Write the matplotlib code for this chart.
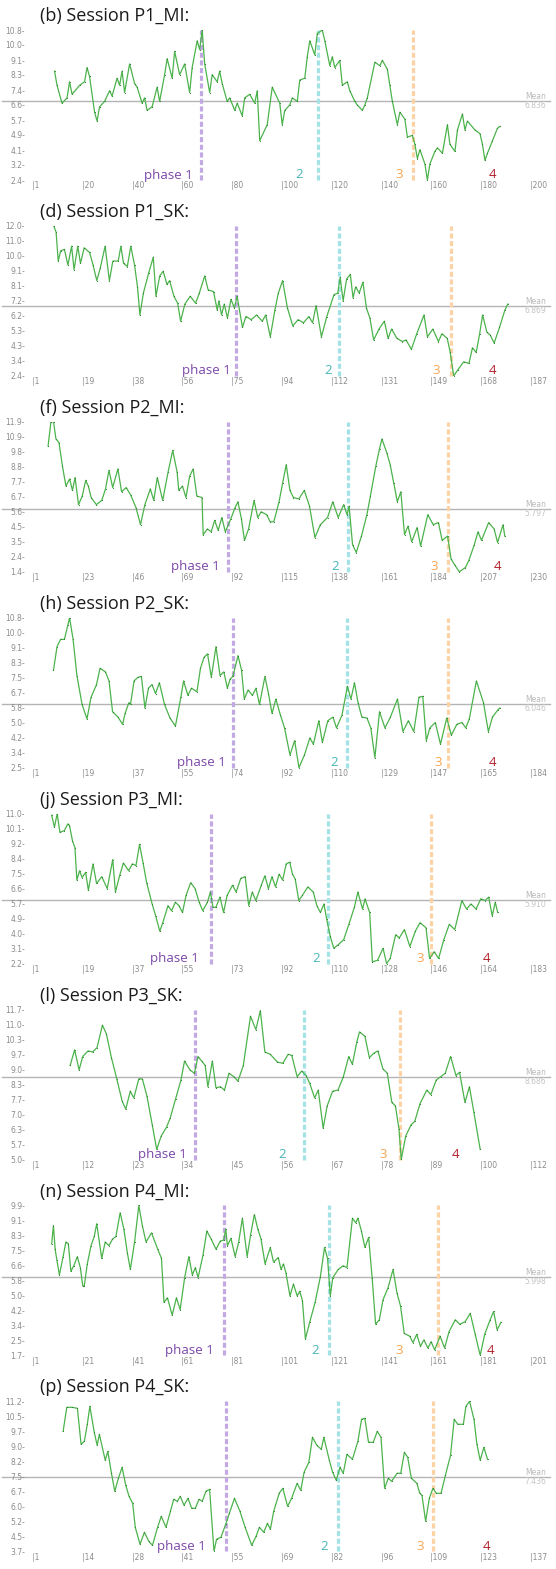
import numpy as np
import matplotlib.pyplot as plt

# ---- values ----
titles = ["(b) Session P1_MI:", "(d) Session P1_SK:", "(f) Session P2_MI:", "(h) Session P2_SK:",
          "(j) Session P3_MI:", "(l) Session P3_SK:", "(n) Session P4_MI:", "(p) Session P4_SK:"]

# (index, value) vertices of each session curve
p1_mi = [(10, 8.5), (11, 7.7), (13, 6.7), (15, 7.0), (16, 7.9), (17, 7.2), (20, 7.7), (22, 7.9), (23, 8.7),
         (24, 8.2), (26, 6.2), (27, 5.7), (28, 6.5), (30, 6.8), (32, 7.4), (33, 7.1), (35, 8.1), (36, 7.7),
         (37, 8.5), (38, 7.3), (40, 8.9), (42, 7.8), (43, 7.6), (45, 6.7), (46, 7.0), (47, 6.3), (49, 6.5),
         (51, 7.6), (52, 6.8), (54, 8.3), (55, 9.2), (57, 8.1), (58, 9.6), (60, 8.3), (62, 8.9), (64, 7.3),
         (65, 8.7), (67, 10.2), (68, 9.7), (69, 10.8), (70, 8.9), (72, 7.3), (73, 8.3), (75, 7.9), (76, 8.5),
         (77, 7.8), (79, 6.8), (80, 7.0), (82, 6.3), (83, 6.7), (85, 6.0), (86, 7.0), (88, 7.2), (90, 6.7),
         (91, 7.4), (92, 4.6), (95, 5.5), (97, 7.6), (100, 6.7), (101, 5.5), (102, 6.3), (104, 6.6), (105, 7.0),
         (107, 6.8), (108, 8.0), (110, 8.1), (111, 9.3), (112, 10.2), (114, 9.4), (115, 10.6), (117, 10.8),
         (118, 10.2), (120, 8.8), (121, 9.3), (122, 8.7), (124, 9.1), (125, 7.7), (127, 7.9), (128, 7.4),
         (130, 6.8), (131, 6.6), (133, 6.3), (134, 6.6), (135, 7.0), (138, 9.0), (140, 8.8), (141, 9.1),
         (143, 8.6), (144, 7.7), (145, 6.8), (147, 5.5), (148, 6.2), (150, 5.8), (151, 4.8), (153, 4.9),
         (154, 4.4), (155, 3.6), (156, 4.1), (158, 3.3), (159, 2.4), (160, 3.3), (162, 4.0), (163, 4.2),
         (165, 3.9), (167, 5.5), (168, 4.4), (170, 4.0), (171, 5.2), (173, 6.1), (174, 5.2), (175, 5.7),
         (178, 5.2), (180, 5.0), (181, 4.4), (182, 3.5), (183, 3.9), (185, 4.6), (187, 5.3), (188, 5.4)]

p1_sk = [(9.1, 12.0), (10.0, 11.6), (10.8, 9.75), (11.7, 10.4), (13.1, 10.5), (14.4, 9.5), (15.8, 10.7),
         (16.7, 9.2), (18.1, 10.7), (19.1, 9.6), (20.5, 10.6), (22.5, 10.3), (23.8, 9.5), (25.2, 8.5),
         (26.5, 9.3), (28.3, 10.7), (29.9, 8.5), (31.2, 9.75), (33.2, 9.75), (34.2, 10.7), (35.2, 9.6),
         (36.6, 9.4), (37.9, 10.7), (39.3, 9.5), (40.4, 8.1), (41.3, 6.3), (42.6, 7.7), (44.6, 9.0),
         (46.3, 10.0), (47.3, 7.5), (48.7, 8.8), (50.0, 9.1), (51.4, 8.25), (52.4, 8.5), (54.0, 7.5),
         (55.4, 7.05), (56.5, 5.9), (58.1, 7.0), (60.1, 7.5), (62.1, 7.05), (63.5, 7.7), (65.5, 8.8),
         (66.8, 7.9), (68.8, 7.8), (70.2, 6.6), (70.8, 7.2), (71.8, 6.3), (72.8, 7.0), (74.0, 6.1),
         (75.3, 7.3), (76.6, 6.75), (77.6, 7.5), (79.6, 5.5), (80.9, 6.2), (82.9, 6.0), (84.9, 6.3),
         (87.0, 5.9), (88.3, 6.3), (90.0, 4.9), (91.7, 6.6), (93.0, 7.7), (94.6, 8.5), (96.4, 6.75),
         (98.4, 5.6), (100.4, 6.0), (102.4, 5.8), (104.4, 6.2), (105.8, 5.8), (107.1, 6.9), (109.1, 4.9),
         (111.1, 6.2), (113.8, 7.6), (115.2, 7.7), (116.1, 8.7), (117.2, 7.2), (118.5, 8.6), (119.9, 8.9),
         (120.9, 7.4), (121.9, 8.1), (123.2, 7.7), (124.6, 8.4), (125.9, 6.75), (127.2, 6.1), (128.6, 4.7),
         (130.6, 5.4), (132.6, 5.9), (134.0, 4.8), (135.3, 5.4), (137.3, 4.8), (139.3, 4.6), (140.7, 4.7),
         (142.7, 4.1), (144.7, 5.1), (147.4, 6.3), (148.7, 4.9), (150.7, 5.4), (152.8, 4.6), (154.1, 5.1),
         (156.1, 4.8), (157.2, 3.9), (158.5, 2.4), (160.1, 2.8), (162.2, 3.3), (164.2, 3.2), (165.5, 4.2),
         (166.9, 3.9), (168.2, 5.1), (169.3, 6.3), (170.9, 5.2), (172.2, 5.0), (173.6, 4.5), (175.6, 5.5),
         (177.6, 6.6), (178.7, 7.0)]

p2_mi = [(8.4, 10.2), (9.7, 11.9), (10.9, 11.9), (12.0, 10.7), (13.4, 10.45), (15.0, 8.8), (16.6, 7.4),
         (18.3, 7.9), (19.6, 7.1), (20.8, 8.0), (22.4, 6.1), (24.1, 6.7), (25.7, 7.8), (26.9, 7.4),
         (28.2, 6.6), (30.6, 6.1), (33.1, 6.4), (34.8, 7.2), (36.4, 8.5), (38.1, 7.3), (40.5, 8.6),
         (42.2, 7.0), (44.3, 7.3), (46.3, 6.8), (48.8, 5.9), (50.9, 4.7), (52.9, 6.1), (55.4, 7.2),
         (57.0, 6.4), (58.6, 8.0), (61.1, 6.4), (63.6, 8.4), (65.7, 9.9), (67.7, 8.4), (68.5, 7.1),
         (70.2, 7.4), (71.8, 6.6), (73.5, 8.1), (75.1, 8.6), (76.8, 6.7), (79.2, 6.6), (79.7, 4.0),
         (81.7, 4.4), (83.4, 4.2), (85.0, 5.0), (86.6, 4.3), (88.3, 5.2), (89.9, 4.2), (92.4, 5.1),
         (94.4, 5.9), (95.7, 6.3), (97.3, 5.1), (98.7, 3.6), (100.6, 4.4), (103.1, 6.4), (104.8, 5.2),
         (106.4, 5.6), (108.9, 5.4), (110.5, 4.9), (112.2, 4.9), (114.6, 6.3), (116.3, 7.65), (117.9, 8.9),
         (119.6, 7.1), (121.2, 6.6), (123.7, 6.5), (126.2, 7.1), (128.6, 6.0), (131.1, 3.8), (133.6, 4.7),
         (136.9, 5.2), (139.3, 6.3), (141.8, 5.2), (144.3, 6.1), (145.9, 5.4), (146.8, 6.0), (148.4, 3.3),
         (150.1, 2.75), (152.5, 3.9), (155.0, 5.4), (156.6, 6.7), (159.1, 8.8), (160.8, 10.0), (161.9, 10.7),
         (164.1, 9.75), (165.7, 8.9), (167.3, 7.65), (169.0, 6.3), (170.6, 7.0), (172.3, 4.0), (173.9, 4.6),
         (175.6, 3.5), (178.1, 4.5), (179.7, 3.2), (183.0, 5.4), (185.5, 4.7), (187.9, 4.85), (189.6, 3.6),
         (192.1, 3.9), (193.7, 2.3), (195.3, 1.9), (197.5, 1.4), (200.3, 1.7), (201.9, 2.2), (204.4, 3.3),
         (206.1, 4.2), (207.7, 3.6), (211.0, 4.85), (213.5, 4.4), (215.1, 3.45), (217.6, 4.7), (218.4, 3.9)]

p2_sk = [(8.9, 7.9), (10.2, 9.2), (11.5, 9.6), (12.9, 9.6), (14.2, 10.4), (14.8, 10.8), (16.1, 9.6),
         (17.5, 7.6), (19.4, 6.0), (21.2, 5.2), (22.7, 6.4), (24.7, 7.1), (26.0, 8.0), (28.0, 7.8),
         (29.3, 7.3), (30.6, 5.6), (32.6, 5.3), (34.3, 4.9), (35.2, 5.5), (36.6, 6.1), (37.2, 6.0),
         (38.5, 7.3), (39.9, 7.5), (41.2, 7.55), (42.5, 5.8), (43.8, 6.9), (45.1, 7.1), (46.4, 6.6),
         (47.8, 7.2), (49.7, 6.0), (51.7, 5.25), (53.7, 4.8), (55.7, 6.4), (56.7, 7.3), (58.3, 6.5),
         (59.6, 6.9), (61.6, 6.7), (62.9, 8.0), (64.2, 8.6), (65.5, 8.8), (66.9, 7.5), (68.6, 9.2),
         (70.1, 7.6), (71.5, 7.8), (72.8, 6.9), (73.8, 7.4), (74.8, 7.55), (76.7, 8.7), (78.0, 7.9),
         (79.0, 6.3), (80.4, 6.8), (82.0, 6.5), (83.3, 6.9), (84.6, 6.0), (86.6, 7.55), (87.9, 6.6),
         (89.2, 5.5), (90.6, 6.3), (92.3, 5.4), (93.8, 4.7), (95.8, 3.2), (97.5, 4.0), (99.1, 2.5),
         (101.1, 3.2), (103.1, 4.15), (104.4, 3.8), (106.4, 5.1), (107.7, 3.9), (109.7, 5.1), (111.6, 5.3),
         (112.9, 4.7), (114.9, 5.4), (116.9, 7.0), (118.2, 6.3), (119.5, 7.2), (120.8, 6.1), (122.2, 5.3),
         (124.1, 5.25), (125.5, 4.7), (127.0, 3.05), (128.7, 5.6), (130.7, 4.7), (132.7, 5.3), (135.3, 6.3),
         (137.3, 4.5), (139.3, 5.1), (141.3, 4.5), (143.2, 6.4), (144.6, 6.45), (145.9, 4.0), (147.2, 4.7),
         (149.2, 5.0), (151.1, 3.8), (153.4, 5.25), (155.1, 4.3), (157.1, 4.9), (159.0, 5.0), (160.4, 4.7),
         (161.7, 5.2), (164.3, 7.3), (166.9, 6.1), (168.7, 4.5), (170.2, 5.3), (172.2, 5.7), (172.9, 5.8)]

p3_mi = [(8.2, 10.9), (9.2, 10.2), (10.2, 11.0), (11.2, 9.9), (12.8, 10.0), (14.1, 10.4), (14.7, 10.3),
         (15.8, 9.4), (16.7, 9.0), (17.4, 7.1), (18.4, 7.65), (19.3, 7.25), (20.6, 7.55), (21.6, 6.5),
         (23.3, 8.05), (24.6, 6.9), (26.5, 7.3), (28.5, 6.6), (30.5, 8.3), (31.5, 6.4), (33.1, 7.4),
         (34.4, 8.1), (36.3, 7.65), (37.7, 8.05), (39.0, 7.95), (40.3, 9.2), (41.6, 8.1), (42.9, 6.95),
         (44.9, 5.7), (46.2, 5.0), (47.7, 4.1), (48.8, 4.6), (50.7, 5.6), (52.0, 5.3), (53.4, 5.8),
         (54.7, 5.6), (56.0, 5.2), (57.3, 6.2), (59.0, 6.95), (60.6, 6.6), (62.1, 5.8), (63.4, 5.3),
         (65.1, 5.8), (66.2, 6.4), (67.1, 5.5), (68.2, 5.5), (69.7, 6.1), (71.0, 5.2), (72.3, 6.2),
         (74.3, 6.8), (75.6, 6.4), (77.3, 7.2), (78.9, 7.3), (80.2, 5.6), (81.5, 6.4), (82.8, 5.9),
         (84.8, 6.8), (86.1, 7.35), (87.4, 6.6), (88.7, 7.3), (90.0, 6.7), (91.3, 7.45), (92.6, 7.1),
         (93.9, 8.05), (95.2, 8.15), (96.2, 7.45), (97.2, 7.15), (98.5, 5.9), (99.8, 6.2), (101.8, 6.7),
         (103.8, 6.4), (105.1, 5.6), (106.4, 5.2), (107.7, 5.7), (108.7, 4.8), (110.0, 3.8), (111.3, 3.1),
         (112.9, 3.3), (114.9, 3.6), (116.8, 4.5), (118.8, 5.5), (120.1, 6.4), (121.8, 5.4), (122.7, 6.0),
         (124.4, 5.2), (125.4, 2.3), (127.3, 2.4), (129.3, 3.1), (130.6, 2.2), (131.9, 2.5), (133.9, 3.9),
         (135.2, 3.7), (137.1, 4.2), (139.1, 3.2), (141.1, 4.1), (142.8, 4.6), (145.0, 4.3), (146.3, 2.5),
         (148.0, 2.9), (149.6, 2.5), (151.5, 3.6), (153.5, 4.5), (155.5, 4.2), (158.1, 5.9), (159.8, 5.4),
         (161.4, 5.7), (163.3, 5.4), (165.0, 6.0), (166.6, 5.9), (167.9, 6.1), (169.2, 5.0), (170.3, 5.8),
         (171.2, 5.2)]

p3_sk = [(9.5, 9.2), (10.5, 9.9), (11.5, 9.0), (12.3, 9.6), (13.5, 9.85), (14.5, 9.8), (15.5, 10.0),
         (16.7, 11.0), (17.6, 10.6), (18.7, 9.55), (19.9, 8.6), (21.1, 7.6), (21.9, 7.25), (22.9, 8.05),
         (23.7, 7.75), (24.8, 8.6), (25.6, 8.6), (26.6, 7.85), (27.8, 6.55), (28.8, 5.45), (29.8, 6.05),
         (31.0, 6.45), (31.8, 6.85), (33.0, 7.7), (34.2, 8.55), (35.0, 9.4), (36.2, 9.0), (37.2, 8.85),
         (38.0, 9.6), (38.8, 9.4), (39.6, 9.2), (40.2, 8.25), (41.2, 9.4), (42.0, 8.2), (43.0, 8.25),
         (43.9, 8.1), (44.9, 8.85), (46.0, 8.7), (46.9, 8.5), (48.1, 9.2), (49.7, 11.4), (50.9, 10.8),
         (51.9, 11.65), (52.9, 9.8), (54.1, 9.7), (55.7, 9.35), (56.9, 9.3), (58.1, 9.7), (58.9, 9.65),
         (60.1, 8.7), (61.1, 8.95), (62.1, 8.75), (62.9, 8.4), (64.0, 7.75), (64.8, 8.1), (65.9, 6.4),
         (66.8, 7.4), (68.0, 8.05), (69.2, 8.1), (70.4, 8.7), (71.6, 9.6), (72.4, 9.25), (73.4, 10.25),
         (74.0, 10.7), (75.2, 10.5), (76.2, 9.55), (77.2, 9.75), (78.1, 9.85), (79.2, 9.05), (80.2, 8.85),
         (81.2, 7.55), (82.0, 7.4), (82.8, 6.35), (83.3, 5.0), (84.3, 6.05), (85.5, 6.55), (86.3, 6.7),
         (87.5, 7.5), (89.0, 8.1), (89.9, 7.9), (91.1, 8.55), (92.1, 8.7), (93.1, 8.85), (94.3, 9.6),
         (95.5, 8.75), (96.3, 8.9), (97.5, 7.55), (98.5, 8.25), (99.5, 7.1), (100.9, 5.45)]

p4_mi = [(8.9, 7.8), (9.6, 8.8), (10.3, 7.5), (11.0, 6.9), (12.0, 6.1), (13.5, 7.1), (14.6, 7.9), (15.6, 7.8),
         (16.6, 6.3), (17.8, 6.6), (19.2, 7.1), (20.4, 6.5), (21.4, 5.5), (22.0, 5.5), (23.2, 6.7),
         (24.7, 7.7), (26.0, 8.2), (27.0, 8.9), (29.0, 7.0), (30.4, 7.9), (31.9, 7.7), (33.3, 8.05),
         (34.7, 8.2), (36.4, 9.5), (37.9, 8.6), (39.3, 7.3), (40.5, 6.4), (42.2, 7.9), (43.9, 9.9),
         (45.3, 8.8), (46.8, 7.9), (49.0, 8.4), (51.5, 7.5), (53.0, 7.0), (54.0, 4.6), (55.4, 4.85),
         (57.3, 3.9), (59.0, 4.85), (60.5, 4.2), (62.3, 5.95), (64.0, 7.1), (65.4, 6.1), (66.6, 6.5),
         (67.7, 5.95), (69.7, 7.2), (71.2, 8.5), (73.0, 8.05), (74.9, 7.5), (76.6, 7.95), (78.0, 8.0),
         (78.8, 8.6), (79.5, 7.7), (80.9, 8.1), (82.6, 7.1), (84.0, 7.9), (85.5, 9.2), (87.4, 7.1),
         (88.8, 8.3), (90.3, 9.4), (91.7, 8.6), (93.0, 8.05), (94.6, 6.7), (96.7, 7.6), (98.0, 6.8),
         (99.9, 7.05), (101.0, 6.4), (102.0, 6.7), (103.0, 6.2), (104.6, 4.95), (106.0, 5.6), (107.5, 4.95),
         (108.5, 5.2), (109.6, 4.7), (110.8, 2.6), (112.5, 3.5), (114.7, 4.6), (116.8, 6.0), (118.5, 7.6),
         (119.7, 7.0), (120.8, 4.95), (121.8, 5.95), (124.0, 6.4), (126.0, 6.6), (127.5, 6.5), (129.7, 9.2),
         (131.0, 8.95), (131.9, 9.2), (133.3, 8.5), (134.7, 7.6), (136.2, 8.15), (137.6, 5.95), (139.0, 3.4),
         (140.5, 3.65), (142.0, 4.75), (144.0, 5.4), (146.0, 6.4), (147.6, 5.1), (149.0, 4.4), (150.5, 2.9),
         (152.7, 2.75), (154.0, 2.4), (155.5, 2.85), (157.0, 2.2), (158.4, 2.55), (160.0, 2.1), (161.3, 2.45),
         (162.7, 2.0), (164.9, 2.75), (166.7, 2.1), (168.5, 3.0), (171.0, 3.65), (172.8, 3.4), (175.0, 3.55),
         (177.0, 4.0), (179.0, 2.85), (181.0, 1.7), (182.8, 2.85), (185.0, 3.65), (186.4, 4.1), (187.8, 3.1),
         (189.3, 3.5)]

p4_sk = [(9.5, 9.7), (10.5, 10.9), (11.9, 10.9), (13.4, 10.85), (14.4, 9.05), (15.3, 9.2), (16.1, 10.05),
         (16.8, 10.95), (18.0, 9.65), (18.8, 9.0), (19.4, 9.55), (21.0, 8.25), (21.7, 8.7), (22.7, 7.6),
         (23.6, 6.7), (24.6, 7.35), (25.6, 7.9), (26.6, 7.0), (27.5, 6.45), (28.5, 6.1), (29.2, 4.9),
         (30.5, 4.05), (31.7, 4.65), (32.9, 4.2), (33.9, 4.0), (35.3, 4.9), (36.3, 5.45), (37.6, 4.9),
         (38.8, 5.7), (39.7, 6.3), (40.7, 6.2), (41.5, 6.45), (42.5, 6.0), (43.6, 6.35), (44.6, 5.85),
         (45.6, 5.85), (46.6, 6.3), (47.5, 6.2), (48.5, 6.7), (49.5, 6.8), (50.7, 3.7), (51.4, 4.3),
         (52.6, 4.4), (53.9, 5.05), (54.9, 5.6), (56.3, 6.35), (57.8, 5.7), (59.2, 4.9), (61.0, 4.0),
         (62.2, 4.45), (63.1, 4.9), (64.3, 4.65), (65.3, 5.1), (66.1, 4.8), (67.0, 5.7), (68.5, 6.6),
         (69.5, 6.85), (70.8, 5.95), (71.9, 6.35), (73.4, 7.1), (74.4, 6.75), (75.3, 7.65), (76.6, 8.15),
         (77.6, 9.4), (78.8, 9.0), (80.0, 8.8), (80.7, 9.4), (82.2, 8.25), (83.1, 7.65), (84.1, 7.25),
         (85.1, 7.9), (86.0, 7.6), (87.0, 8.55), (88.5, 8.3), (90.0, 9.2), (91.0, 10.3), (91.9, 10.35),
         (92.9, 9.15), (94.2, 9.15), (95.3, 9.7), (96.3, 9.4), (97.3, 6.85), (98.3, 7.35), (99.2, 7.2),
         (100.7, 7.6), (101.7, 7.6), (102.7, 8.65), (103.6, 8.4), (104.6, 7.35), (106.1, 7.1), (106.9, 6.6),
         (107.5, 6.5), (108.5, 5.2), (109.5, 6.35), (110.5, 6.85), (111.4, 6.6), (112.7, 6.6), (113.9, 7.5),
         (115.3, 8.5), (116.3, 10.3), (117.3, 10.05), (118.8, 10.05), (119.5, 10.95), (120.5, 11.2),
         (121.7, 10.3), (122.5, 9.05), (123.4, 8.25), (124.4, 8.9), (125.4, 8.3)]

sessions = [p1_mi, p1_sk, p2_mi, p2_sk, p3_mi, p3_sk, p4_mi, p4_sk]

x_labels = [[1, 20, 40, 60, 80, 100, 120, 140, 160, 180, 200],
            [1, 19, 38, 56, 75, 94, 112, 131, 149, 168, 187],
            [1, 23, 46, 69, 92, 115, 138, 161, 184, 207, 230],
            [1, 19, 37, 55, 74, 92, 110, 129, 147, 165, 184],
            [1, 19, 37, 55, 73, 92, 110, 128, 146, 164, 183],
            [1, 12, 23, 34, 45, 56, 67, 78, 89, 100, 112],
            [1, 21, 41, 61, 81, 101, 121, 141, 161, 181, 201],
            [1, 14, 28, 41, 55, 69, 82, 96, 109, 123, 137]]

y_labels = [[2.4, 3.2, 4.1, 4.9, 5.7, 6.6, 7.4, 8.3, 9.1, 10.0, 10.8],
            [2.4, 3.4, 4.3, 5.3, 6.2, 7.2, 8.1, 9.1, 10.0, 11.0, 12.0],
            [1.4, 2.4, 3.5, 4.5, 5.6, 6.7, 7.7, 8.8, 9.8, 10.9, 11.9],
            [2.5, 3.4, 4.2, 5.0, 5.8, 6.7, 7.5, 8.3, 9.1, 10.0, 10.8],
            [2.2, 3.1, 4.0, 4.9, 5.7, 6.6, 7.5, 8.4, 9.2, 10.1, 11.0],
            [5.0, 5.7, 6.3, 7.0, 7.7, 8.3, 9.0, 9.7, 10.3, 11.0, 11.7],
            [1.7, 2.5, 3.4, 4.2, 5.0, 5.8, 6.6, 7.5, 8.3, 9.1, 9.9],
            [3.7, 4.5, 5.2, 6.0, 6.7, 7.5, 8.2, 9.0, 9.7, 10.5, 11.2]]

means = [6.836, 6.869, 5.797, 6.046, 5.910, 8.686, 5.998, 7.436]

# phase boundaries (index where phase 2, 3, 4 begin)
phase_bounds = [[68.6, 115.4, 153.3], [77.1, 115.8, 157.5], [91.1, 146.3, 192.5], [74.8, 116.9, 153.8],
                [66.5, 109.0, 146.7], [37.4, 61.7, 83.1], [78.1, 120.4, 164.2], [53.9, 84.6, 110.5]]
# where the labels "phase 1", "2", "3", "4" sit
label_x = [[65.4, 107.8, 147.6, 184.8], [75.3, 111.5, 151.8, 172.9], [87.5, 140.5, 186.0, 215.0],
           [72.1, 112.0, 150.2, 170.2], [61.9, 105.0, 143.0, 167.2], [35.4, 56.7, 79.2, 95.3],
           [73.8, 114.7, 148.4, 185.0], [48.5, 80.9, 107.0, 125.1]]
phase_names = ["phase 1", "2", "3", "4"]

line_cols = ["#c3a9e3", "#a3e3e6", "#fdd3a6"]
label_cols = ["#7c48a8", "#47b5b8", "#f6a552", "#b3202a"]

W, H = 556, 1569
fig = plt.figure(figsize=(W / 100, H / 100), dpi=100)

for i, pts in enumerate(sessions):
    top = 30 + 195.9 * i
    ax = fig.add_axes([32 / W, 1 - (top + 150) / H, 498 / W, 150 / H])
    n = x_labels[i][-1]
    ylo, yhi = y_labels[i][0], y_labels[i][-1]
    ax.set_xlim(1, n)
    ax.set_ylim(ylo, yhi)
    for s in ax.spines.values():
        s.set_visible(False)

    ax.set_xticks(np.linspace(1, n, 11))
    ax.set_xticklabels(["|%d" % v for v in x_labels[i]], ha="left")
    ax.set_yticks(np.linspace(ylo, yhi, 11))
    ax.set_yticklabels(["%.1f-" % v for v in y_labels[i]])
    ax.tick_params(length=0, labelsize=5.5, labelcolor="#8c8c8c")
    ax.tick_params(axis="x", pad=1)
    ax.tick_params(axis="y", pad=5)

    # mean line and its label
    ax.axhline(means[i], xmin=-0.06, xmax=1.04, color="#b4b4b4", lw=1.0, clip_on=False, zorder=1)
    ax.text(1.032, means[i], "Mean", transform=ax.get_yaxis_transform(), ha="right", va="bottom",
            fontsize=5.5, color="#b8b8b8")
    ax.text(1.032, means[i], "%.3f" % means[i], transform=ax.get_yaxis_transform(), ha="right",
            va="top", fontsize=5.5, color="#c4c4c4")

    # phase boundaries
    for xb, c in zip(phase_bounds[i], line_cols):
        ax.axvline(xb, color=c, lw=2.3, ls=(0, (1.6, 0.8)), zorder=2, clip_on=False)

    xs = [p[0] for p in pts]
    ys = [p[1] for p in pts]
    ax.plot(xs, ys, color="#4cb34c", lw=0.9, marker=".", ms=1.6, mfc="#2f7d2f", mec="none", zorder=3)

    for k, (lx, name) in enumerate(zip(label_x[i], phase_names)):
        ax.text(lx, 0.01, name, transform=ax.get_xaxis_transform(), ha="right" if k == 0 else "center",
                va="baseline", fontsize=9.5, color=label_cols[k], family="Open Sans", zorder=4)

    fig.text(40 / W, 1 - (top - 14) / H, titles[i], fontsize=13, family="Open Sans", va="center",
             ha="left", color="#1a1a1a")

fig.savefig("out.png", dpi=100, facecolor="white")
